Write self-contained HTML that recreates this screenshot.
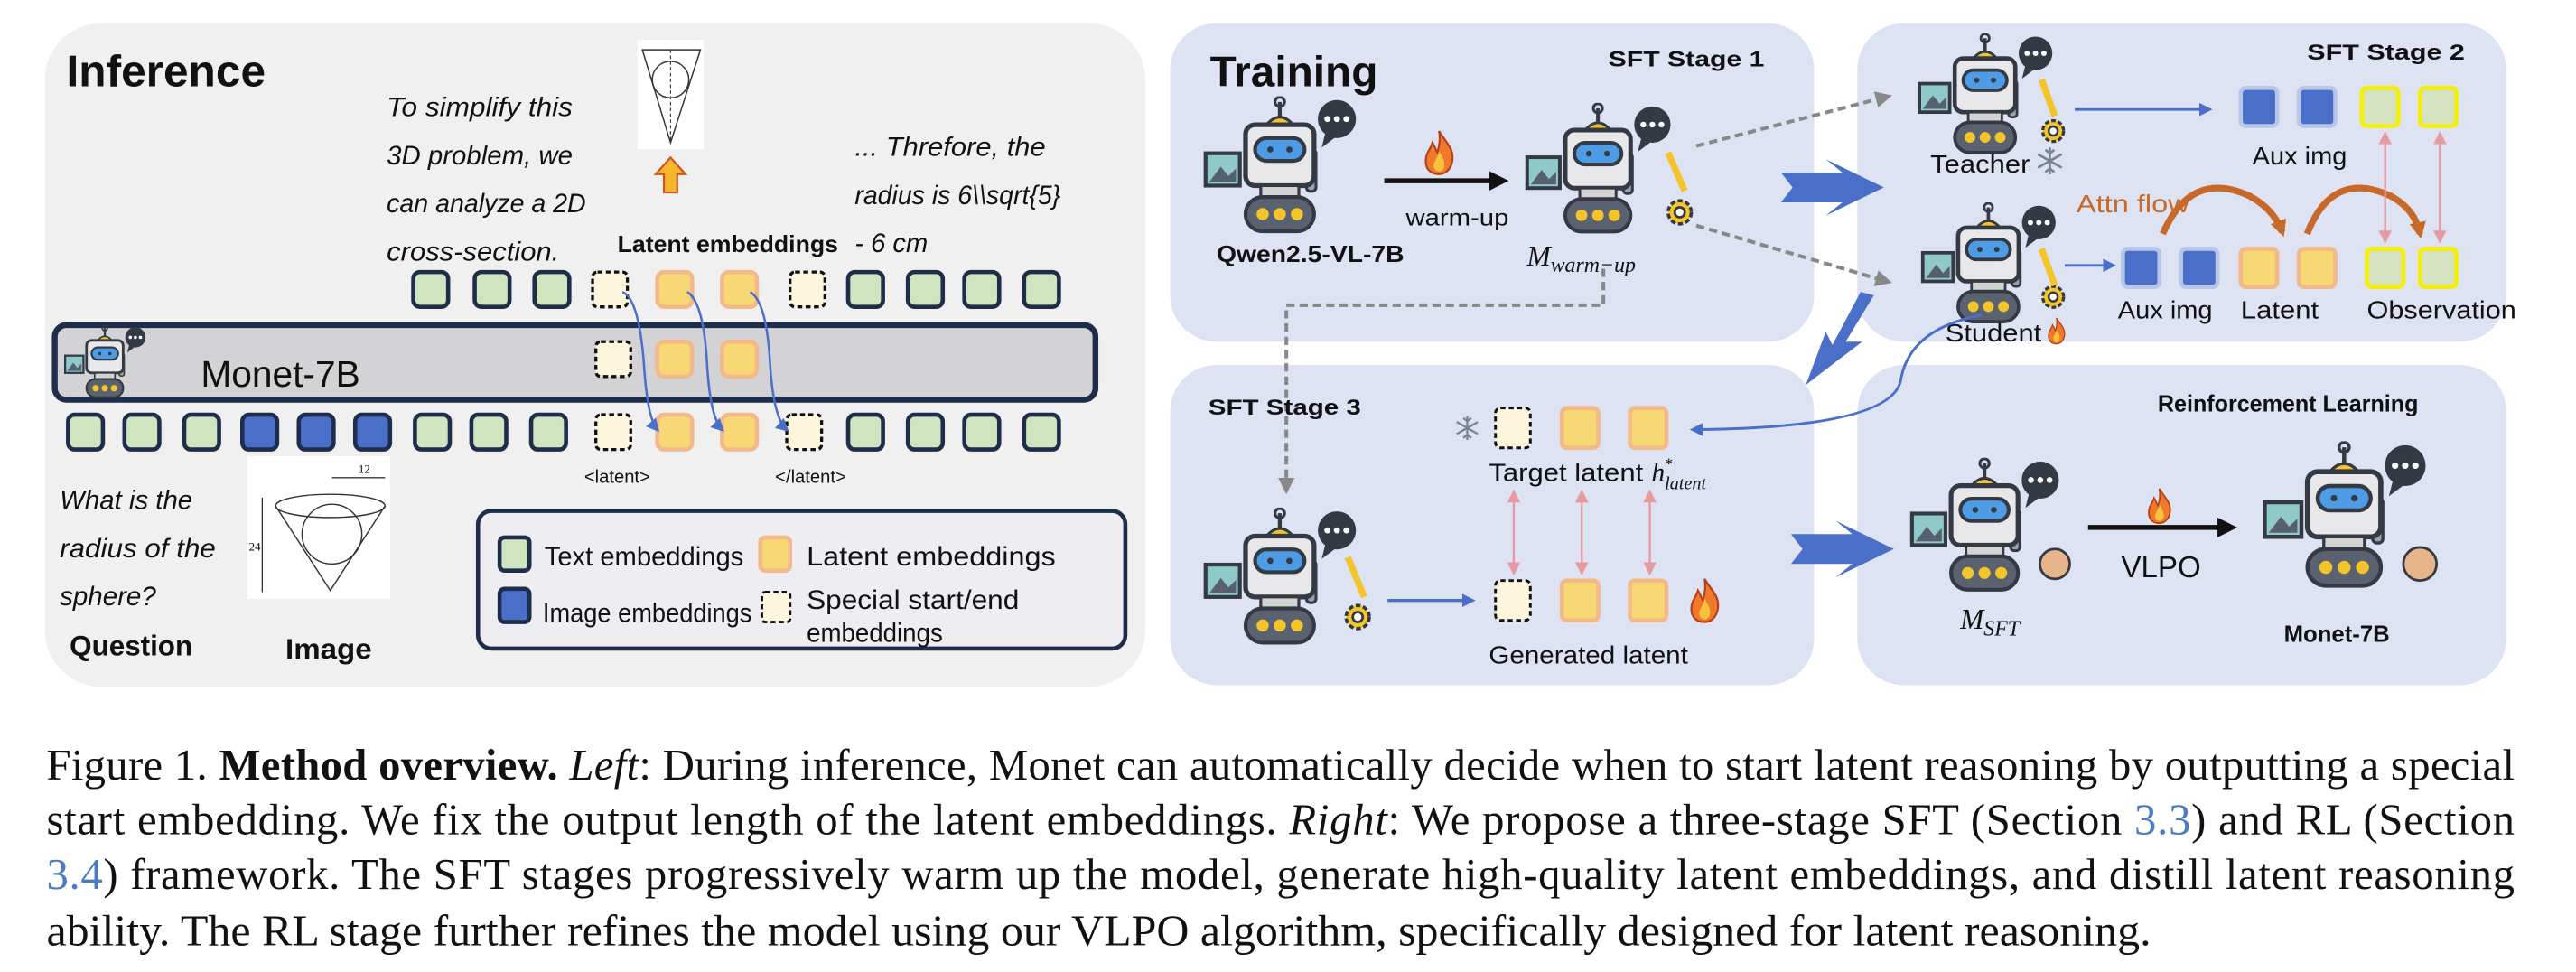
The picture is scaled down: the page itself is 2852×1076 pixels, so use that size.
<!DOCTYPE html>
<html><head><meta charset="utf-8"><style>
html,body{margin:0;padding:0;background:#fff;}
svg{display:block;}
.c{font-family:"Liberation Sans",sans-serif;}
.ci{font-family:"Liberation Sans",sans-serif;font-style:italic;}
.b{font-family:"Liberation Sans",sans-serif;font-weight:bold;}
.cap{font-family:"Liberation Serif",serif;font-size:26.5px;}
</style></head><body>
<svg width="2852" height="1076" viewBox="0 0 1552 586" preserveAspectRatio="none" xmlns="http://www.w3.org/2000/svg">
<defs>
<symbol id="robot" viewBox="0 0 90 75">
  <circle cx="72" cy="12" r="10" fill="#343a44"/>
  <path d="M66 19 L64 27 L72 21Z" fill="#343a44"/>
  <circle cx="67" cy="12" r="1.6" fill="#fff"/><circle cx="72" cy="12" r="1.6" fill="#fff"/><circle cx="77" cy="12" r="1.6" fill="#fff"/>
  <line x1="42" y1="3" x2="42" y2="11" stroke="#343a44" stroke-width="2"/>
  <circle cx="42" cy="3" r="2.5" fill="none" stroke="#343a44" stroke-width="1.5"/>
  <path d="M35 15 Q42 7 49 15Z" fill="#f3c52a" stroke="#343a44" stroke-width="1.5"/>
  <rect x="3" y="30" width="18" height="17" fill="#8fc9c9" stroke="#343a44" stroke-width="2"/>
  <path d="M5 45 L11 37 L15 42 L19 38 L19 45Z" fill="#576070"/>
  <rect x="56" y="28" width="5" height="22" rx="2" fill="#9aa3b0" stroke="#343a44" stroke-width="1.5"/>
  <rect x="24" y="15" width="36" height="32" rx="5" fill="#e8e8ea" stroke="#343a44" stroke-width="2.5"/>
  <rect x="29" y="22" width="26" height="12" rx="6" fill="#4e9be6" stroke="#343a44" stroke-width="2"/>
  <circle cx="37" cy="28" r="1.6" fill="#343a44"/><circle cx="47" cy="28" r="1.6" fill="#343a44"/>
  <rect x="32" y="47" width="20" height="6" fill="#d3d3d3" stroke="#343a44" stroke-width="1.5"/>
  <rect x="24" y="53" width="36" height="18" rx="9" fill="#5a6270" stroke="#343a44" stroke-width="2"/>
  <circle cx="33" cy="62" r="3.2" fill="#f3c52a"/><circle cx="42" cy="62" r="3.2" fill="#f3c52a"/><circle cx="51" cy="62" r="3.2" fill="#f3c52a"/>
</symbol>
<symbol id="gear" viewBox="0 0 20 20">
  <circle cx="10" cy="10" r="7" fill="#f3c52a" stroke="#343a44" stroke-width="2" stroke-dasharray="3 1.5"/>
  <circle cx="10" cy="10" r="3" fill="#fff" stroke="#343a44" stroke-width="1.5"/>
</symbol>
<symbol id="fire" viewBox="0 0 20 28">
  <path d="M10 1 C14 8 19 11 18 19 C17 25 13 27 10 27 C6 27 2 25 2 19 C2 14 5 12 6 8 C8 11 8 13 9 14 C10 10 11 6 10 1Z" fill="#f07a2a" stroke="#b5401a" stroke-width="1.2"/>
  <path d="M10 13 C12 17 14 19 13 23 C12 26 8 26 7 23 C6 20 9 18 10 13Z" fill="#f9c23c"/>
</symbol>
<symbol id="snow" viewBox="0 0 20 20">
  <g stroke="#7a8494" stroke-width="1.6" fill="none">
  <line x1="10" y1="1" x2="10" y2="19"/><line x1="2" y1="5.5" x2="18" y2="14.5"/><line x1="2" y1="14.5" x2="18" y2="5.5"/>
  <path d="M7 2.5 L10 5 L13 2.5 M7 17.5 L10 15 L13 17.5"/></g>
</symbol>
<marker id="ab" markerWidth="8" markerHeight="8" refX="6" refY="4" orient="auto" markerUnits="userSpaceOnUse"><path d="M0 0 L8 4 L0 8Z" fill="#4a6fc9"/></marker>
<marker id="ak" markerWidth="12" markerHeight="12" refX="9" refY="6" orient="auto" markerUnits="userSpaceOnUse"><path d="M0 0 L12 6 L0 12Z" fill="#111"/></marker>
<marker id="ag" markerWidth="10" markerHeight="10" refX="8" refY="5" orient="auto" markerUnits="userSpaceOnUse"><path d="M0 0 L10 5 L0 10Z" fill="#888"/></marker>
<marker id="ap" markerWidth="8" markerHeight="8" refX="7" refY="4" orient="auto-start-reverse" markerUnits="userSpaceOnUse"><path d="M0 0 L8 4 L0 8Z" fill="#e79aa0"/></marker>
<marker id="ao" markerWidth="10" markerHeight="10" refX="7" refY="5" orient="auto" markerUnits="userSpaceOnUse"><path d="M0 0 L10 5 L0 10Z" fill="#c8692a"/></marker>
</defs>

<rect x="27" y="14" width="663" height="400" rx="34" fill="#f0f0f0"/>
<text x="40" y="52" class="b" font-size="27" fill="#111">Inference</text>
<rect x="384" y="24" width="40" height="66" fill="#fff"/>
<path d="M387 30 L422 30 L404 86Z" fill="none" stroke="#333" stroke-width="0.8"/>
<circle cx="404" cy="48" r="11" fill="none" stroke="#333" stroke-width="0.8"/>
<line x1="404" y1="30" x2="404" y2="86" stroke="#333" stroke-width="0.6" stroke-dasharray="2 1.5"/>
<path d="M400 116 L400 105 L395 105 L404 95 L413 105 L408 105 L408 116Z" fill="#f5b62e" stroke="#d0541e" stroke-width="1.2"/>
<g class="ci" font-size="16" fill="#111">
<text x="233" y="70" textLength="112" lengthAdjust="spacingAndGlyphs">To simplify this</text>
<text x="233" y="99" textLength="112" lengthAdjust="spacingAndGlyphs">3D problem, we</text>
<text x="233" y="128" textLength="120" lengthAdjust="spacingAndGlyphs">can analyze a 2D</text>
<text x="233" y="157" textLength="104" lengthAdjust="spacingAndGlyphs">cross-section.</text>
<text x="515" y="94" textLength="115" lengthAdjust="spacingAndGlyphs">... Threfore, the</text>
<text x="515" y="123" textLength="124" lengthAdjust="spacingAndGlyphs">radius is 6\\sqrt{5}</text>
<text x="515" y="152" textLength="44" lengthAdjust="spacingAndGlyphs">- 6 cm</text>
</g>
<text x="372" y="152" class="b" font-size="14" fill="#111" textLength="133" lengthAdjust="spacingAndGlyphs">Latent embeddings</text>

<g stroke-width="2.5">
<g fill="#cfe5c0" stroke="#1f2d4d">
<rect x="249" y="164" width="21" height="21" rx="4"/><rect x="286" y="164" width="21" height="21" rx="4"/><rect x="322" y="164" width="21" height="21" rx="4"/>
<rect x="511" y="164" width="21" height="21" rx="4"/><rect x="547" y="164" width="21" height="21" rx="4"/><rect x="581" y="164" width="21" height="21" rx="4"/><rect x="617" y="164" width="21" height="21" rx="4"/>
</g>
<g fill="#fdf5dc" stroke="#111" stroke-dasharray="3 2" stroke-width="1.8">
<rect x="357" y="164" width="21" height="21" rx="3"/><rect x="476" y="164" width="21" height="21" rx="3"/>
<rect x="359" y="250" width="21" height="21" rx="3"/><rect x="474" y="250" width="21" height="21" rx="3"/>
</g>
<g fill="#f8d775" stroke="#f2b98a">
<rect x="396" y="164" width="21" height="21" rx="4"/><rect x="435" y="164" width="21" height="21" rx="4"/>
<rect x="396" y="250" width="21" height="21" rx="4"/><rect x="435" y="250" width="21" height="21" rx="4"/>
</g>
</g>
<rect x="33" y="196" width="627" height="45" rx="7" fill="#d3d3d5" stroke="#1f2d4d" stroke-width="3.5"/>
<use href="#robot" x="36" y="196" width="58" height="46"/>
<text x="121" y="233" class="c" font-size="22" fill="#111" textLength="96" lengthAdjust="spacingAndGlyphs">Monet-7B</text>
<g fill="#fdf5dc" stroke="#111" stroke-dasharray="3 2" stroke-width="1.8"><rect x="359" y="206" width="21" height="21" rx="3"/></g>
<g fill="#f8d775" stroke="#f2b98a" stroke-width="2.5"><rect x="396" y="206" width="21" height="21" rx="4"/><rect x="435" y="206" width="21" height="21" rx="4"/></g>
<g stroke-width="2.5" stroke="#1f2d4d">
<g fill="#cfe5c0"><rect x="41" y="250" width="21" height="21" rx="4"/><rect x="75" y="250" width="21" height="21" rx="4"/><rect x="111" y="250" width="21" height="21" rx="4"/>
<rect x="250" y="250" width="21" height="21" rx="4"/><rect x="284" y="250" width="21" height="21" rx="4"/><rect x="320" y="250" width="21" height="21" rx="4"/>
<rect x="511" y="250" width="21" height="21" rx="4"/><rect x="547" y="250" width="21" height="21" rx="4"/><rect x="581" y="250" width="21" height="21" rx="4"/><rect x="617" y="250" width="21" height="21" rx="4"/></g>
<g fill="#4a6fc9"><rect x="146" y="250" width="21" height="21" rx="4"/><rect x="180" y="250" width="21" height="21" rx="4"/><rect x="214" y="250" width="21" height="21" rx="4"/></g>
</g>
<g fill="none" stroke="#4a6fc9" stroke-width="1.4" marker-end="url(#ab)">
<path d="M375 176 Q385 180 388 220 Q390 252 396 259"/>
<path d="M414 176 Q424 182 426 220 Q428 252 435 259"/>
<path d="M452 176 Q462 182 464 220 Q466 252 474 259"/>
</g>
<text x="352" y="291" class="c" font-size="11" fill="#111">&lt;latent&gt;</text>
<text x="467" y="291" class="c" font-size="11" fill="#111">&lt;/latent&gt;</text>
<g class="ci" font-size="16" fill="#111">
<text x="36" y="307" textLength="80" lengthAdjust="spacingAndGlyphs">What is the</text><text x="36" y="336" textLength="94" lengthAdjust="spacingAndGlyphs">radius of the</text><text x="36" y="365" textLength="58" lengthAdjust="spacingAndGlyphs">sphere?</text>
</g>
<text x="42" y="395" class="b" font-size="17" fill="#111" textLength="74" lengthAdjust="spacingAndGlyphs">Question</text>
<text x="172" y="397" class="b" font-size="17" fill="#111" textLength="52" lengthAdjust="spacingAndGlyphs">Image</text>
<rect x="149" y="275" width="86" height="86" fill="#fff"/>
<path d="M166 305 L199 356 L232 305" fill="none" stroke="#333" stroke-width="0.8"/>
<ellipse cx="199" cy="305" rx="33" ry="7" fill="none" stroke="#333" stroke-width="0.8"/>
<circle cx="200" cy="322" r="18" fill="none" stroke="#333" stroke-width="0.8"/>
<line x1="158" y1="300" x2="158" y2="357" stroke="#333" stroke-width="0.7"/>
<line x1="200" y1="288" x2="232" y2="288" stroke="#333" stroke-width="0.7"/>
<text x="216" y="285" font-family="Liberation Serif" font-size="7">12</text>
<text x="150" y="332" font-family="Liberation Serif" font-size="7">24</text>
<rect x="288" y="308" width="390" height="83" rx="8" fill="#eeeef2" stroke="#1f2d4d" stroke-width="2.5"/>
<rect x="301" y="324" width="18" height="20" rx="3" fill="#cfe5c0" stroke="#1f2d4d" stroke-width="2.5"/>
<rect x="301" y="355" width="18" height="20" rx="3" fill="#4a6fc9" stroke="#1f2d4d" stroke-width="2.5"/>
<rect x="458" y="324" width="18" height="20" rx="3" fill="#f8d775" stroke="#f2b98a" stroke-width="2.5"/>
<rect x="459" y="357" width="17" height="18" rx="2" fill="#fdf5dc" stroke="#111" stroke-width="1.6" stroke-dasharray="3 2"/>
<g class="c" font-size="16" fill="#111">
<text x="328" y="341" textLength="120" lengthAdjust="spacingAndGlyphs">Text embeddings</text><text x="486" y="341" textLength="150" lengthAdjust="spacingAndGlyphs">Latent embeddings</text>
<text x="327" y="375" textLength="126" lengthAdjust="spacingAndGlyphs">Image embeddings</text><text x="486" y="367" textLength="128" lengthAdjust="spacingAndGlyphs">Special start/end</text><text x="486" y="387" textLength="82" lengthAdjust="spacingAndGlyphs">embeddings</text>
</g>

<g fill="#dde3f3">
<rect x="705" y="14" width="388" height="192" rx="28"/>
<rect x="1119" y="14" width="391" height="192" rx="28"/>
<rect x="705" y="220" width="388" height="193" rx="28"/>
<rect x="1119" y="220" width="391" height="193" rx="28"/>
</g>
<text x="729" y="52" class="b" font-size="26" fill="#111">Training</text>
<text x="969" y="40" class="b" font-size="13" fill="#111" textLength="94" lengthAdjust="spacingAndGlyphs">SFT Stage 1</text>
<use href="#robot" x="722" y="58" width="105" height="86"/>
<text x="733" y="158" class="b" font-size="14" fill="#111" textLength="113" lengthAdjust="spacingAndGlyphs">Qwen2.5-VL-7B</text>
<line x1="834" y1="109" x2="906" y2="109" stroke="#111" stroke-width="3" marker-end="url(#ak)"/>
<use href="#fire" x="857" y="78" width="20" height="28"/>
<text x="847" y="136" class="c" font-size="14" fill="#111" textLength="62" lengthAdjust="spacingAndGlyphs">warm-up</text>
<use href="#robot" x="916" y="62" width="100" height="82"/>
<use href="#gear" x="1002" y="118" width="20" height="20"/>
<line x1="1005" y1="92" x2="1015" y2="115" stroke="#f3c52a" stroke-width="4"/>
<text x="920" y="160" font-family="Liberation Serif" font-style="italic" font-size="17" fill="#111">M<tspan font-size="13" dy="4">warm−up</tspan></text>
<g fill="none" stroke="#888" stroke-width="2.2" stroke-dasharray="5 3">
<line x1="1022" y1="88" x2="1138" y2="58" marker-end="url(#ag)"/>
<line x1="1022" y1="136" x2="1138" y2="170" marker-end="url(#ag)"/>
<path d="M966 162 L966 184 L775 184 L775 296" marker-end="url(#ag)"/>
</g>
<path d="M1073 104 L1110 104 L1100 96 L1135 113 L1100 130 L1110 122 L1073 122 L1080 113Z" fill="#4a6fc9"/>
<path d="M1079 322 L1116 322 L1106 314 L1141 331 L1106 348 L1116 340 L1079 340 L1086 331Z" fill="#4a6fc9"/>
<path d="M1129 178 L1112 206 L1122 206 L1088 232 L1100 200 L1104 208 L1121 176Z" fill="#4a6fc9"/>
<text x="1390" y="36" class="b" font-size="13" fill="#111" textLength="95" lengthAdjust="spacingAndGlyphs">SFT Stage 2</text>
<use href="#robot" x="1152" y="20" width="94" height="76"/>
<use href="#gear" x="1228" y="70" width="18" height="18"/>
<line x1="1230" y1="48" x2="1238" y2="70" stroke="#f3c52a" stroke-width="4"/>
<text x="1163" y="104" class="c" font-size="15" fill="#111" textLength="60" lengthAdjust="spacingAndGlyphs">Teacher</text>
<use href="#snow" x="1226" y="88" width="18" height="18"/>
<line x1="1250" y1="66" x2="1331" y2="66" stroke="#4a6fc9" stroke-width="1.6" marker-end="url(#ab)"/>
<g stroke-width="2.5">
<rect x="1350" y="53" width="22" height="23" rx="3" fill="#4a6fc9" stroke="#b8c6ea"/>
<rect x="1385" y="53" width="22" height="23" rx="3" fill="#4a6fc9" stroke="#b8c6ea"/>
<rect x="1423" y="53" width="22" height="23" rx="3" fill="#d5e3c0" stroke="#f5f000"/>
<rect x="1458" y="53" width="22" height="23" rx="3" fill="#d5e3c0" stroke="#f5f000"/>
</g>
<text x="1357" y="99" class="c" font-size="15" fill="#111" textLength="57" lengthAdjust="spacingAndGlyphs">Aux img</text>
<use href="#robot" x="1154" y="122" width="94" height="76"/>
<use href="#gear" x="1228" y="170" width="18" height="18"/>
<line x1="1230" y1="150" x2="1238" y2="172" stroke="#f3c52a" stroke-width="4"/>
<text x="1172" y="206" class="c" font-size="15" fill="#111" textLength="58" lengthAdjust="spacingAndGlyphs">Student</text>
<use href="#fire" x="1233" y="191" width="12" height="17"/>
<line x1="1244" y1="160" x2="1273" y2="160" stroke="#4a6fc9" stroke-width="1.6" marker-end="url(#ab)"/>
<g stroke-width="2.5">
<rect x="1279" y="150" width="22" height="23" rx="3" fill="#4a6fc9" stroke="#b8c6ea"/>
<rect x="1314" y="150" width="22" height="23" rx="3" fill="#4a6fc9" stroke="#b8c6ea"/>
<rect x="1350" y="150" width="22" height="23" rx="3" fill="#f8d775" stroke="#f2b98a"/>
<rect x="1385" y="150" width="22" height="23" rx="3" fill="#f8d775" stroke="#f2b98a"/>
<rect x="1426" y="150" width="22" height="23" rx="3" fill="#d5e3c0" stroke="#f5f000"/>
<rect x="1458" y="150" width="22" height="23" rx="3" fill="#d5e3c0" stroke="#f5f000"/>
</g>
<g class="c" font-size="15" fill="#111">
<text x="1276" y="192" textLength="57" lengthAdjust="spacingAndGlyphs">Aux img</text><text x="1350" y="192" textLength="47" lengthAdjust="spacingAndGlyphs">Latent</text><text x="1426" y="192" textLength="90" lengthAdjust="spacingAndGlyphs">Observation</text>
</g>
<text x="1251" y="128" class="c" font-size="15" fill="#c8692a" textLength="68" lengthAdjust="spacingAndGlyphs">Attn flow</text>
<g fill="none" stroke="#c8692a" stroke-width="4" marker-end="url(#ao)">
<path d="M1303 141 Q1320 102 1355 118 Q1370 126 1375 140"/>
<path d="M1390 141 Q1405 102 1440 118 Q1455 126 1458 141"/>
</g>
<g stroke="#e79aa0" stroke-width="1.3" marker-start="url(#ap)" marker-end="url(#ap)">
<line x1="1437" y1="80" x2="1437" y2="146"/><line x1="1470" y1="80" x2="1470" y2="146"/>
</g>
<path d="M1194 190 Q1150 198 1145 230 Q1138 258 1020 259" fill="none" stroke="#4a6fc9" stroke-width="1.6" marker-end="url(#ab)"/>
<text x="728" y="250" class="b" font-size="13" fill="#111" textLength="92" lengthAdjust="spacingAndGlyphs">SFT Stage 3</text>
<use href="#snow" x="876" y="250" width="16" height="16"/>
<rect x="901" y="246" width="21" height="24" rx="3" fill="#fdf5dc" stroke="#111" stroke-width="1.6" stroke-dasharray="3 2"/>
<rect x="941" y="246" width="22" height="24" rx="3" fill="#f8d775" stroke="#f2b98a" stroke-width="2.5"/>
<rect x="982" y="246" width="22" height="24" rx="3" fill="#f8d775" stroke="#f2b98a" stroke-width="2.5"/>
<text x="897" y="290" class="c" font-size="15" fill="#111" textLength="93" lengthAdjust="spacingAndGlyphs">Target latent</text>
<text x="995" y="290" font-family="Liberation Serif" font-style="italic" font-size="16" fill="#111">h</text>
<text x="1003" y="283" font-family="Liberation Serif" font-size="10" fill="#111">*</text>
<text x="1003" y="295" font-family="Liberation Serif" font-style="italic" font-size="11" fill="#111">latent</text>
<g stroke="#e79aa0" stroke-width="1.3" marker-start="url(#ap)" marker-end="url(#ap)">
<line x1="912" y1="296" x2="912" y2="346"/><line x1="953" y1="296" x2="953" y2="346"/><line x1="994" y1="296" x2="994" y2="346"/>
</g>
<rect x="901" y="350" width="21" height="24" rx="3" fill="#fdf5dc" stroke="#111" stroke-width="1.6" stroke-dasharray="3 2"/>
<rect x="941" y="350" width="22" height="24" rx="3" fill="#f8d775" stroke="#f2b98a" stroke-width="2.5"/>
<rect x="982" y="350" width="22" height="24" rx="3" fill="#f8d775" stroke="#f2b98a" stroke-width="2.5"/>
<use href="#fire" x="1017" y="348" width="20" height="28"/>
<text x="897" y="400" class="c" font-size="15" fill="#111" textLength="120" lengthAdjust="spacingAndGlyphs">Generated latent</text>
<use href="#robot" x="722" y="306" width="105" height="86"/>
<use href="#gear" x="808" y="362" width="20" height="20"/>
<line x1="812" y1="336" x2="822" y2="360" stroke="#f3c52a" stroke-width="4"/>
<line x1="836" y1="362" x2="887" y2="362" stroke="#4a6fc9" stroke-width="1.8" marker-end="url(#ab)"/>
<text x="1300" y="248" class="b" font-size="14" fill="#111" textLength="157" lengthAdjust="spacingAndGlyphs">Reinforcement Learning</text>
<use href="#robot" x="1148" y="276" width="102" height="84"/>
<circle cx="1238" cy="340" r="9" fill="#e7b58a" stroke="#343a44" stroke-width="1.5"/>
<text x="1181" y="379" font-family="Liberation Serif" font-style="italic" font-size="17" fill="#111">M<tspan font-size="13" dy="4">SFT</tspan></text>
<use href="#fire" x="1293" y="293" width="16" height="24"/>
<line x1="1258" y1="318" x2="1345" y2="318" stroke="#111" stroke-width="3" marker-end="url(#ak)"/>
<text x="1278" y="348" class="c" font-size="18" fill="#111">VLPO</text>
<use href="#robot" x="1360" y="266" width="112" height="92"/>
<circle cx="1458" cy="340" r="10" fill="#e7b58a" stroke="#343a44" stroke-width="1.5"/>
<text x="1376" y="387" class="b" font-size="14" fill="#111">Monet-7B</text>

<g class="cap" fill="#111">
<text x="28" y="470" textLength="1487" lengthAdjust="spacing">Figure 1. <tspan font-weight="bold">Method overview.</tspan> <tspan font-style="italic">Left</tspan>: During inference, Monet can automatically decide when to start latent reasoning by outputting a special</text>
<text x="28" y="503" textLength="1487" lengthAdjust="spacing">start embedding. We fix the output length of the latent embeddings. <tspan font-style="italic">Right</tspan>: We propose a three-stage SFT (Section <tspan fill="#4a7cc4">3.3</tspan>) and RL (Section</text>
<text x="28" y="536" textLength="1487" lengthAdjust="spacing"><tspan fill="#4a7cc4">3.4</tspan>) framework. The SFT stages progressively warm up the model, generate high-quality latent embeddings, and distill latent reasoning</text>
<text x="28" y="570" textLength="1268" lengthAdjust="spacingAndGlyphs">ability. The RL stage further refines the model using our VLPO algorithm, specifically designed for latent reasoning.</text>
</g>
</svg>
</body></html>
